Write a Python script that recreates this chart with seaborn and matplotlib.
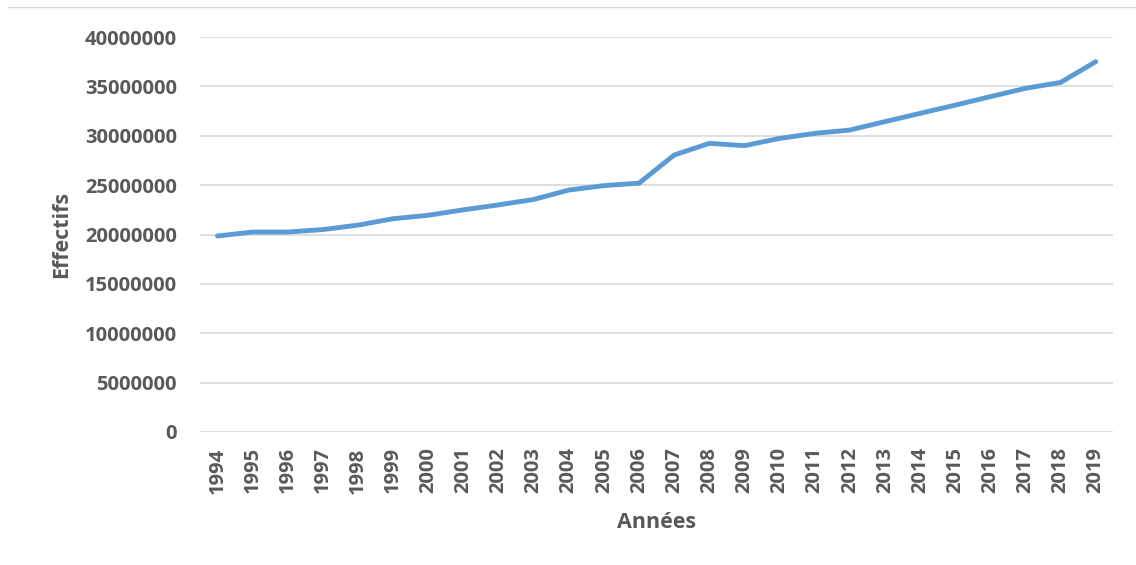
import matplotlib
matplotlib.use("Agg")
import matplotlib.pyplot as plt
from matplotlib.lines import Line2D
from matplotlib.ticker import FuncFormatter
import pandas as pd
import seaborn as sns

# ── Data ─────────────────────────────────────────────────────────────────────
YEARS = list(range(1994, 2020))
EFFECTIFS = [
    19850000, 20250000, 20250000, 20500000, 20950000, 21600000, 21950000,
    22500000, 23000000, 23550000, 24500000, 24950000, 25200000, 28050000,
    29230000, 29000000, 29730000, 30240000, 30580000, 31430000, 32270000,
    33100000, 33960000, 34800000, 35400000, 37500000,
]
Y_TICKS = list(range(0, 40000001, 5000000))

TEXT_COLOR = "#595959"
LINE_COLOR = "#5B9BD5"
GRID_COLOR = "#D9D9D9"

df = pd.DataFrame({"annee": YEARS, "effectifs": EFFECTIFS})

# ── Plot ─────────────────────────────────────────────────────────────────────
sns.set_theme(style="white")
plt.rcParams["font.family"] = ["Open Sans", "DejaVu Sans"]

fig = plt.figure(figsize=(11.36, 5.65), dpi=100)
ax = fig.add_axes([0.176, 0.2354, 0.804, 0.6991])

sns.lineplot(data=df, x="annee", y="effectifs", ax=ax,
             color=LINE_COLOR, linewidth=3.5, solid_capstyle="round")

ax.set_xlim(YEARS[0] - 0.5, YEARS[-1] + 0.5)
ax.set_ylim(0, 40000000)
ax.set_yticks(Y_TICKS)
ax.yaxis.set_major_formatter(FuncFormatter(lambda v, _: f"{int(v)}"))
ax.set_xticks(YEARS)
ax.set_xticklabels([str(y) for y in YEARS], rotation=90)

ax.grid(axis="y", color=GRID_COLOR, linewidth=1.2)
ax.set_axisbelow(True)
for side in ["top", "right", "left", "bottom"]:
    ax.spines[side].set_visible(False)
ax.tick_params(axis="both", length=0, labelsize=14.5, labelcolor=TEXT_COLOR)
ax.tick_params(axis="y", pad=16.5)
ax.tick_params(axis="x", pad=11)
for lbl in ax.get_xticklabels() + ax.get_yticklabels():
    lbl.set_fontweight("bold")

ax.set_xlabel("Années", fontsize=15.5, fontweight="bold", color=TEXT_COLOR, labelpad=13)
ax.set_ylabel("Effectifs", fontsize=15.5, fontweight="bold", color=TEXT_COLOR, labelpad=9)

# thin border line at the top of the chart area
fig.add_artist(Line2D([0.007, 1.0], [0.988, 0.988], transform=fig.transFigure,
                      color=GRID_COLOR, linewidth=1.0))

fig.savefig("out.png", dpi=100, facecolor="white")
